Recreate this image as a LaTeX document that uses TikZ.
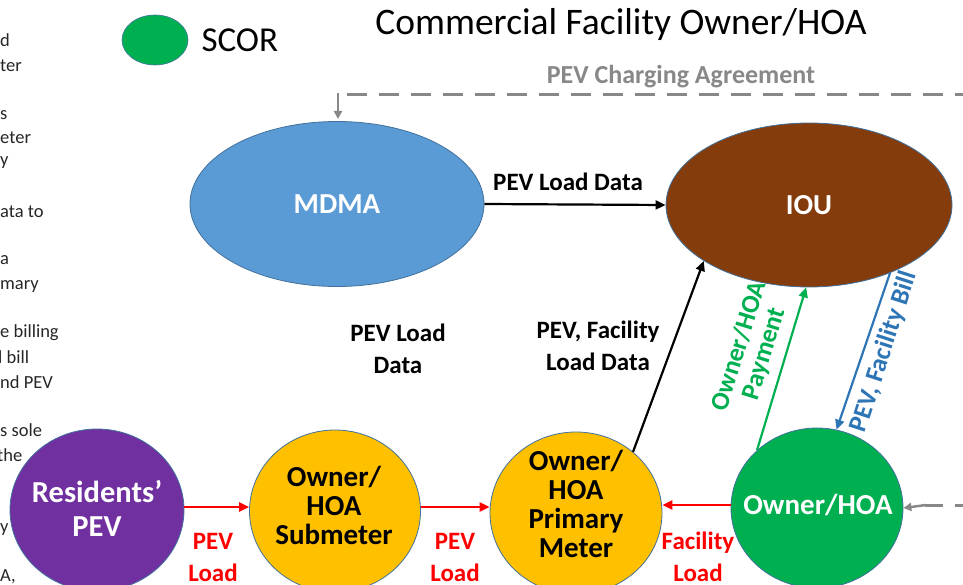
\documentclass[tikz,border=0pt]{standalone}
\usepackage{fontspec}
\setmainfont{Carlito}
\usetikzlibrary{arrows.meta,shapes.geometric}
\definecolor{mdmablue}{HTML}{5B9BD5}
\definecolor{ioubrown}{HTML}{843C0C}
\definecolor{scorgreen}{HTML}{00B050}
\definecolor{meteryellow}{HTML}{FFC000}
\definecolor{pevpurple}{HTML}{7030A0}
\definecolor{billblue}{HTML}{2E75B6}
\definecolor{agreegray}{HTML}{888888}
\definecolor{edgeblue}{HTML}{41719C}
\definecolor{sidetext}{HTML}{262626}
\tikzset{
  blob/.style={ellipse, draw=edgeblue, line width=0.8pt, inner sep=0pt},
  blobtext/.style={align=center, inner sep=0pt, font=\fontsize{29}{29}\selectfont\bfseries},
  flow/.style={line width=2.2pt, -{Triangle[length=10pt,width=9pt]}},
  lbl/.style={align=center, font=\fontsize{25}{32}\selectfont\bfseries},
  slant/.style={align=center, font=\fontsize{26}{26}\selectfont\bfseries},
  side/.style={anchor=west, inner sep=0pt, text=sidetext, font=\fontsize{18.5}{20}\selectfont},
}
\begin{document}
\begin{tikzpicture}[x=1pt,y=-1pt]
\useasboundingbox (0,0) rectangle (963,585);
\clip (0,0) rectangle (963,585);

% clipped notes column on the left
\node[side] at (0,40) {d};
\node[side] at (0,66) {ter};
\node[side] at (0,115) {s};
\node[side] at (0,138) {eter};
\node[side] at (0,163) {y};
\node[side] at (0,212) {ata to};
\node[side] at (0,260) {a};
\node[side] at (0,286) {mary};
\node[side] at (0,333) {e billing};
\node[side] at (-2,357) {l bill};
\node[side] at (0,382) {nd PEV};
\node[side] at (0,430) {s sole};
\node[side] at (-3,455) {the};
\node[side] at (0,530) {y};
\node[side] at (0,577) {A,};

% legend and title
\node[ellipse, fill=scorgreen, draw=edgeblue, line width=0.6pt,
      minimum width=66pt, minimum height=50pt] (legend) at (155,40) {};
\node[anchor=west, font=\fontsize{35}{37}\selectfont] (scor) at (198,40) {SCOR};
\node[font=\fontsize{37.5}{40}\selectfont] (title) at (621,25) {Commercial Facility Owner/HOA};

% entities: shapes, then their captions
\node[blob, fill=mdmablue, minimum width=294pt, minimum height=165pt] (mdma) at (337,204) {};
\node[blob, fill=ioubrown, minimum width=286pt, minimum height=164pt] (iou) at (809,205) {};
\node[blob, fill=pevpurple, minimum width=174pt, minimum height=162pt] (pev) at (97,510) {};
\node[blob, fill=meteryellow, minimum width=171pt, minimum height=162pt] (sub) at (335,511) {};
\node[blob, fill=meteryellow, minimum width=172pt, minimum height=162pt] (prim) at (576,513) {};
\node[blob, fill=scorgreen, minimum width=172pt, minimum height=160pt] (own) at (817,508) {};

\node[blobtext, text=white] (mdmaT) at (337,204) {MDMA};
\node[blobtext, text=white, font=\fontsize{30.5}{34}\selectfont\bfseries] (pevT) at (97,508) {Residents'\\PEV};
\node[blobtext, text=white] (iouT) at (809,205) {IOU};
\node[blobtext, text=black] (subT) at (334,505) {Owner/\\HOA\\Submeter};
\node[blobtext, text=black] (primT) at (576,504) {Owner/\\HOA\\Primary\\Meter};
\node[blobtext, text=white] (ownT) at (818,505) {Owner/HOA};

% charging agreement (dashed, grey)
\coordinate (agrR) at (975,95);
\coordinate (agrT) at (338,119);
\draw[agreegray, line width=3pt, dash pattern=on 20pt off 12pt]
  (agrR) -- (347,95);
\draw[agreegray, line width=2.5pt, -{Triangle[length=8pt,width=8pt]}]
  (338,93.5) -- (agrT);
\node[text=agreegray, font=\fontsize{26}{28}\selectfont\bfseries] (agrlbl) at (681,77) {PEV Charging Agreement};
\coordinate (ownR) at (975,505);
\draw[agreegray, line width=3pt, dash pattern=on 20pt off 12pt] (ownR) -- (925,505);
\draw[agreegray, line width=2.5pt, -{Triangle[length=8pt,width=8pt]}] (926,505) -- (own.east);

% data and billing flows
\draw[flow, black] (mdma.east) -- (iou.west);
\node[lbl] at (568,182) {PEV Load Data};
\node[lbl] at (398,349) {PEV Load\\Data};
\node[lbl] at (598,346) {PEV, Facility\\Load Data};
\draw[flow, black] (prim.47) -- (iou.208);

\draw[flow, red] (pev.east |- 0,507) -- (sub.west |- 0,507);
\draw[flow, red] (sub.east |- 0,507) -- (prim.west |- 0,507);
\draw[flow, red] (own.west |- 0,505) -- (prim.east |- 0,505);
\node[lbl, text=red] at (213,557) {PEV\\Load};
\node[lbl, text=red] at (455,557) {PEV\\Load};
\node[lbl, text=red] at (698,557) {Facility\\Load};

\draw[flow, scorgreen] (own.136) -- (iou.268);
\node[slant, text=scorgreen, rotate=72.7] at (752,350) {Owner/HOA\\Payment};
\draw[flow, billblue] (iou.320) -- (own.76);
\node[slant, text=billblue, rotate=72] at (884,352) {PEV, Facility Bill};
\end{tikzpicture}
\end{document}
